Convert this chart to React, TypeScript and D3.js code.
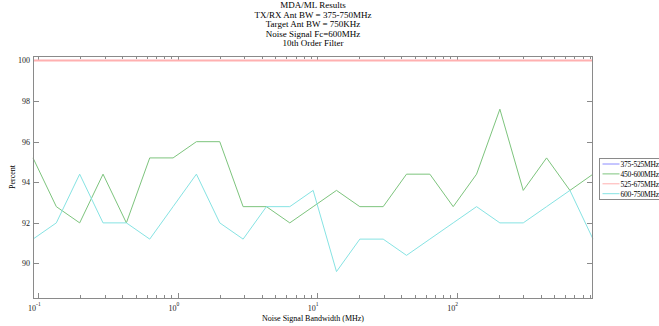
import { useEffect, useRef } from 'react';
import * as d3 from 'd3';

const titleLines = [
  'MDA/ML Results',
  'TX/RX Ant BW = 375-750MHz',
  'Target Ant BW = 750KHz',
  'Noise Signal Fc=600MHz',
  '10th Order Filter',
];

// noise bandwidth (MHz), log spaced
const bandwidths = [
  0.0915, 0.1345, 0.1978, 0.2909, 0.4278, 0.629, 0.925, 1.36, 2.0, 2.941, 4.324, 6.358, 9.35,
  13.75, 20.22, 29.73, 43.71, 64.27, 94.5, 139.0, 204.3, 300.5, 441.8, 649.7, 951,
];

const seriesNames = ['375-525MHz', '450-600MHz', '525-675MHz', '600-750MHz'];
const seriesColors = ['#8c8cff', '#7dc47d', '#ffb0b0', '#86e3e3'];

const band375 = [
  100, 100, 100, 100, 100, 100, 100, 100, 100, 100, 100, 100, 100, 100, 100, 100, 100, 100, 100,
  100, 100, 100, 100, 100, 100,
];
const band450 = [
  95.2, 92.8, 92.0, 94.4, 92.0, 95.2, 95.2, 96.0, 96.0, 92.8, 92.8, 92.0, 92.8, 93.6, 92.8, 92.8,
  94.4, 94.4, 92.8, 94.4, 97.6, 93.6, 95.2, 93.6, 94.4,
];
const band525 = [
  100, 100, 100, 100, 100, 100, 100, 100, 100, 100, 100, 100, 100, 100, 100, 100, 100, 100, 100,
  100, 100, 100, 100, 100, 100,
];
const band600 = [
  91.2, 92.0, 94.4, 92.0, 92.0, 91.2, 92.8, 94.4, 92.0, 91.2, 92.8, 92.8, 93.6, 89.6, 91.2, 91.2,
  90.4, 91.2, 92.0, 92.8, 92.0, 92.0, 92.8, 93.6, 91.2,
];

const yTicks = [90, 92, 94, 96, 98, 100];
const xDecades = [-1, 0, 1, 2];

const font = '"Liberation Serif", "Times New Roman", serif';

function App() {
  const svgRef = useRef(null);

  useEffect(() => {
    const svg = d3.select(svgRef.current);
    svg.selectAll('*').remove();

    const left = 33, right = 593, top = 56, bottom = 298;
    const x = d3.scaleLog().domain([0.0915, 951]).range([left, right]);
    const y = d3.scaleLinear().domain([88.3, 100.22]).range([bottom, top]);

    // title
    svg
      .append('g')
      .selectAll('text')
      .data(titleLines)
      .enter()
      .append('text')
      .attr('x', (left + right) / 2)
      .attr('y', (d, i) => 8 + i * 9.6)
      .attr('text-anchor', 'middle')
      .attr('font-family', font)
      .attr('font-size', 9)
      .text((d) => d);

    const axisColor = '#8a8a8a';

    // x ticks: major decades + minor 2..9
    const minor = [];
    for (let e = -2; e <= 2; e++) {
      for (let m = 2; m <= 9; m++) {
        const v = m * Math.pow(10, e);
        if (v > 0.0915 && v < 951) minor.push(v);
      }
    }
    const ticks = svg.append('g').attr('stroke', axisColor).attr('stroke-width', 1);
    xDecades.forEach((e) => {
      const px = Math.round(x(Math.pow(10, e))) + 0.5;
      ticks.append('line').attr('x1', px).attr('x2', px).attr('y1', bottom).attr('y2', bottom - 5);
      ticks.append('line').attr('x1', px).attr('x2', px).attr('y1', top).attr('y2', top + 5);
    });
    minor.forEach((v) => {
      const px = Math.round(x(v)) + 0.5;
      ticks.append('line').attr('x1', px).attr('x2', px).attr('y1', bottom).attr('y2', bottom - 3);
      ticks.append('line').attr('x1', px).attr('x2', px).attr('y1', top).attr('y2', top + 3);
    });
    yTicks.forEach((t) => {
      const py = Math.round(y(t)) + 0.5;
      ticks.append('line').attr('x1', left).attr('x2', left + 6).attr('y1', py).attr('y2', py);
      ticks.append('line').attr('x1', right).attr('x2', right - 6).attr('y1', py).attr('y2', py);
    });

    // y tick labels
    svg
      .append('g')
      .selectAll('text')
      .data(yTicks)
      .enter()
      .append('text')
      .attr('x', left - 3)
      .attr('y', (d) => y(d) + 3)
      .attr('text-anchor', 'end')
      .attr('font-family', font)
      .attr('font-size', 8)
      .attr('fill', '#222')
      .text((d) => d);

    // x tick labels 10^e
    const xl = svg.append('g').attr('font-family', font).attr('fill', '#222');
    xDecades.forEach((e) => {
      const px = x(Math.pow(10, e));
      const t = xl
        .append('text')
        .attr('x', px - 4)
        .attr('y', 311)
        .attr('text-anchor', 'middle')
        .attr('font-size', 8);
      t.append('tspan').text('10');
      t.append('tspan').attr('font-size', 5.5).attr('dy', -5).text(e);
    });

    // axis labels
    svg
      .append('text')
      .attr('x', (left + right) / 2)
      .attr('y', 321)
      .attr('text-anchor', 'middle')
      .attr('font-family', font)
      .attr('font-size', 8)
      .text('Noise Signal Bandwidth (MHz)');
    svg
      .append('text')
      .attr('transform', `translate(15, ${(top + bottom) / 2}) rotate(-90)`)
      .attr('text-anchor', 'middle')
      .attr('font-family', font)
      .attr('font-size', 8)
      .text('Percent');

    // series lines
    const line = d3
      .line()
      .x((d, i) => x(bandwidths[i]))
      .y((d) => y(d));
    const series = [band375, band450, band525, band600];
    const widths = [1, 1, 2, 1];
    series.forEach((s, i) => {
      svg
        .append('path')
        .datum(s)
        .attr('fill', 'none')
        .attr('stroke', seriesColors[i])
        .attr('stroke-width', widths[i])
        .attr('d', line);
    });

    // frame
    svg
      .append('rect')
      .attr('x', left + 0.5)
      .attr('y', top + 0.5)
      .attr('width', right - left - 1)
      .attr('height', bottom - top)
      .attr('fill', 'none')
      .attr('stroke', axisColor)
      .attr('stroke-width', 1);

    // legend (runs off the right edge, as in the original)
    const lg = svg.append('g').attr('transform', 'translate(599.5, 158.5)');
    lg.append('rect')
      .attr('width', 80)
      .attr('height', 41)
      .attr('fill', 'white')
      .attr('stroke', axisColor);
    seriesNames.forEach((name, i) => {
      const ly = 5.5 + i * 9.9;
      lg.append('line')
        .attr('x1', 3)
        .attr('x2', 20)
        .attr('y1', ly)
        .attr('y2', ly)
        .attr('stroke', seriesColors[i]);
      lg.append('text')
        .attr('x', 21)
        .attr('y', ly + 3)
        .attr('font-family', font)
        .attr('font-size', 7.5)
        .attr('letter-spacing', -0.2)
        .text(name);
    });
  }, []);

  return (
    <div style={{ position: 'absolute', left: 0, top: 0 }}>
      <svg width={659} height={326} ref={svgRef} style={{ display: 'block' }} />
    </div>
  );
}

export default App;
